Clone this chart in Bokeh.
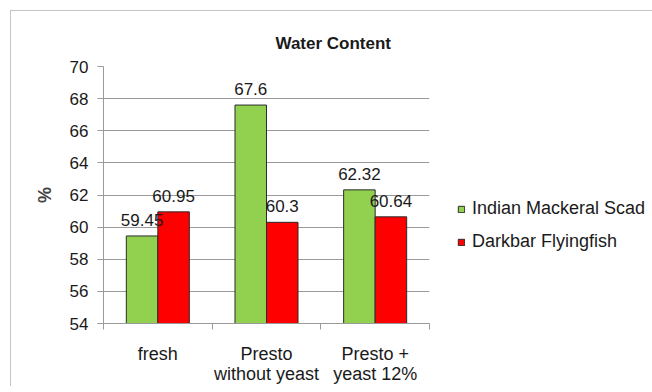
from bokeh.plotting import figure
from bokeh.models import (ColumnDataSource, FixedTicker, Legend, LegendItem,
                          Range1d, Title)
from bokeh.core.properties import value
from bokeh.embed import file_html
from bokeh.resources import INLINE

# Water content (%) per preparation, for two fish species
categories = ["fresh", "Presto\nwithout yeast", "Presto +\nyeast 12%"]
mackerel_scad = [59.45, 67.6, 62.32]
flyingfish = [60.95, 60.3, 60.64]
series_names = ["Indian Mackeral Scad", "Darkbar Flyingfish"]
y_ticks = [54, 56, 58, 60, 62, 64, 66, 68, 70]

FONT = "Liberation Sans"
GREEN = "#92D050"
RED = "#FF0000"
GRID = "#9a9a9a"
INK = "#1a1a1a"

# the chart area sits 10px in from the page corner, with a light frame on its
# top and left edges
p = figure(frame_width=326, frame_height=257, output_backend="svg", toolbar_location=None,
           x_range=Range1d(0, len(categories)), y_range=Range1d(y_ticks[0], y_ticks[-1]),
           margin=(10, 0, 0, 10))
p.styles = {"border-left": "1px solid #c4c4c4", "border-top": "1px solid #c4c4c4"}
p.min_border_left = 92
p.min_border_right = 10
p.min_border_top = 55
p.min_border_bottom = 58
p.outline_line_color = None
p.background_fill_color = "white"
p.border_fill_color = "white"

# bars: two side-by-side bars per category, each 0.29 of the category width
bar_w = 0.29
idx = list(range(len(categories)))
src_a = ColumnDataSource(dict(x=[i + 0.5 - bar_w / 2 for i in idx], top=mackerel_scad,
                              lab=[f"{v:g}" for v in mackerel_scad]))
src_b = ColumnDataSource(dict(x=[i + 0.5 + bar_w / 2 for i in idx], top=flyingfish,
                              lab=[f"{v:g}" for v in flyingfish]))

r_a = p.vbar(x="x", top="top", bottom=y_ticks[0], width=bar_w, source=src_a,
             fill_color=GREEN, line_color="#2b2b2b", line_width=1)
r_b = p.vbar(x="x", top="top", bottom=y_ticks[0], width=bar_w, source=src_b,
             fill_color=RED, line_color="#2b2b2b", line_width=1)

# value labels above each bar
for src in (src_a, src_b):
    p.text(x="x", y="top", text="lab", source=src, text_align="center",
           text_baseline="middle", y_offset=-16, text_font=value(FONT),
           text_font_size="17px", text_color=INK)

# axes
xa = p.xaxis[0]
xa.ticker = FixedTicker(ticks=[i + 0.5 for i in idx], minor_ticks=[0, 1, 2, 3])
xa.major_label_overrides = {i + 0.5: c for i, c in zip(idx, categories)}
xa.major_tick_line_color = None
xa.minor_tick_line_color = GRID
xa.minor_tick_in = 0
xa.minor_tick_out = 6
xa.axis_line_color = GRID
xa.major_label_standoff = 14
xa.major_label_text_font = FONT
xa.major_label_text_font_size = "18px"
xa.major_label_text_line_height = 1.0
xa.major_label_text_color = INK

ya = p.yaxis[0]
ya.ticker = FixedTicker(ticks=y_ticks)
ya.minor_tick_line_color = None
ya.major_tick_in = 0
ya.major_tick_out = 6
ya.major_tick_line_color = GRID
ya.axis_line_color = GRID
ya.major_label_standoff = 9
ya.major_label_text_font = FONT
ya.major_label_text_font_size = "17px"
ya.major_label_text_color = INK
ya.axis_label = "%"
ya.axis_label_text_font = FONT
ya.axis_label_text_font_style = "bold"
ya.axis_label_text_font_size = "18px"
ya.axis_label_standoff = 12

p.xgrid.grid_line_color = None
p.ygrid.grid_line_color = GRID
p.ygrid.ticker = FixedTicker(ticks=y_ticks)

# title
p.title = Title(text="Water Content", align="left", offset=172, standoff=23,
                vertical_align="top",
                text_font=FONT, text_font_style="bold", text_font_size="17px",
                text_color=INK)

# legend, to the right of the plot area
legend = Legend(items=[LegendItem(label=series_names[0], renderers=[r_a]),
                       LegendItem(label=series_names[1], renderers=[r_b])],
                location=(28, 71), orientation="vertical",
                glyph_width=8, glyph_height=8, label_height=20, spacing=12,
                label_standoff=7, padding=0, margin=0,
                border_line_color=None, background_fill_alpha=0,
                label_text_font=FONT, label_text_font_size="18px",
                label_text_color=INK)
p.add_layout(legend, "right")

open("out.html", "w").write(file_html(p, INLINE))
